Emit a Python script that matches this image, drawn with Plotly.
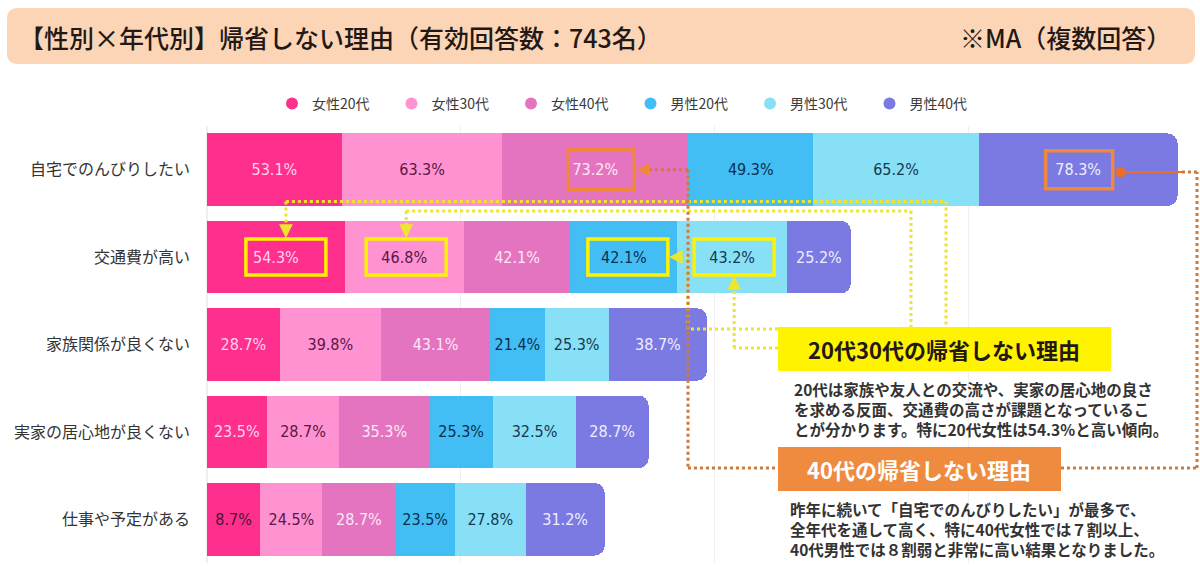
import plotly.graph_objects as go

# ---------------- data ----------------
categories = ["自宅でのんびりしたい", "交通費が高い", "家族関係が良くない", "実家の居心地が良くない", "仕事や予定がある"]
series_names = ["女性20代", "女性30代", "女性40代", "男性20代", "男性30代", "男性40代"]
female_20s = [53.1, 54.3, 28.7, 23.5, 8.7]
female_30s = [63.3, 46.8, 39.8, 28.7, 24.5]
female_40s = [73.2, 42.1, 43.1, 35.3, 28.7]
male_20s = [49.3, 42.1, 21.4, 25.3, 23.5]
male_30s = [65.2, 43.2, 25.3, 32.5, 27.8]
male_40s = [78.3, 25.2, 38.7, 28.7, 31.2]
series_values = [female_20s, female_30s, female_40s, male_20s, male_30s, male_40s]

# ---------------- style ----------------
colors = ["#FE2F8D", "#FF92D1", "#E574C0", "#43BEF5", "#88E0F6", "#7B7AE2"]
text_colors = ["#FFD3EE", "#5A1747", "#FDE8F6", "#0E2E4E", "#16394F", "#EEEEFF"]
text_color_override = {(0, 4): "#4A1238"}   # (series, row): dark label on the narrow segment
MIN_SEG = 21.0  # the original keeps a minimum segment length so its label fits

W, H = 1200, 566
PL, PR, PT, PB = 207, 1200, 126, 563
PW, PH = PR - PL, PB - PT
X_MAX = 391.25
SCALE = PW / X_MAX
BAND = PH / len(categories)

JP = "Noto Sans CJK JP, Noto Sans, sans-serif"
NUM = "DejaVu Sans Condensed, Liberation Sans Narrow, Liberation Sans, sans-serif"


def X(px):
    return (px - PL) / PW


def Y(py):
    return (PB - py) / PH


fig = go.Figure()

display_values = [[max(v, MIN_SEG) for v in vals] for vals in series_values]

for si, (name, vals, disp, col) in enumerate(zip(series_names, series_values, display_values, colors)):
    tcols = [text_color_override.get((si, ri), text_colors[si]) for ri in range(len(vals))]
    fig.add_trace(go.Bar(
        y=categories, x=disp, orientation="h", name=name,
        marker=dict(color=col, line=dict(width=0)),
        text=[f"{v:.1f}%" for v in vals], textposition="inside",
        insidetextanchor="middle", textangle=0,
        textfont=dict(family=NUM, size=16, color=tcols),
        showlegend=False, hoverinfo="skip",
    ))

for name, col in zip(series_names, colors):
    fig.add_trace(go.Scatter(
        x=[None], y=[None], mode="markers", name=name,
        marker=dict(symbol="circle", size=14, color=col),
    ))

shapes = []
annotations = []


def rounded_path(x0, y0, x1, y1, r):
    def P(x, y):
        return f"{X(x):.5f},{Y(y):.5f}"
    return (f"M {P(x0 + r, y0)} L {P(x1 - r, y0)} Q {P(x1, y0)} {P(x1, y0 + r)} "
            f"L {P(x1, y1 - r)} Q {P(x1, y1)} {P(x1 - r, y1)} L {P(x0 + r, y1)} "
            f"Q {P(x0, y1)} {P(x0, y1 - r)} L {P(x0, y0 + r)} Q {P(x0, y0)} {P(x0 + r, y0)} Z")


# header bar
shapes.append(dict(type="path", xref="paper", yref="paper", path=rounded_path(7, 8, 1195, 64, 11),
                   fillcolor="#FBD5B6", line=dict(width=0), layer="below"))
annotations.append(dict(xref="paper", yref="paper", x=X(17), y=Y(37), xanchor="left", yanchor="middle",
                        text="【性別×年代別】帰省しない理由（有効回答数：743名）", showarrow=False,
                        font=dict(family=JP, size=25, color="#231815", weight=500)))
annotations.append(dict(xref="paper", yref="paper", x=X(1173), y=Y(37), xanchor="right", yanchor="middle",
                        text="※MA（複数回答）", showarrow=False,
                        font=dict(family=JP, size=25, color="#231815", weight=500)))


# highlight boxes around labels (anchored to segment centres)
def seg_center(si, ri):
    return sum(display_values[k][ri] for k in range(si)) + display_values[si][ri] / 2


ORANGE = "#F0883E"
YELLOW = "#FFF200"
boxes = [  # (series, row, colour, w, h, dx)
    (2, 0, ORANGE, 66, 40, 6),
    (5, 0, ORANGE, 67, 38, 1),
    (0, 1, YELLOW, 80, 36, 10),
    (1, 1, YELLOW, 80, 36, 2),
    (3, 1, YELLOW, 80, 36, 4),
    (4, 1, YELLOW, 80, 36, 2),
]
box_px = {}
for si, ri, col, bw, bh, dx in boxes:
    c = seg_center(si, ri)
    shapes.append(dict(type="rect", xref="x", yref="y", xsizemode="pixel", ysizemode="pixel",
                       xanchor=c, yanchor=ri, x0=dx - bw / 2, x1=dx + bw / 2, y0=-bh / 2, y1=bh / 2,
                       line=dict(color=col, width=3.5), fillcolor="rgba(0,0,0,0)", layer="above"))
    cx = PL + c * SCALE + dx
    cy = PT + (ri + 0.5) * BAND
    box_px[(si, ri)] = (cx, cy, bw, bh)

DOT_Y = "#EEE62C"
DOT_O = "#CD7A3D"


def dline(x0, y0, x1, y1, col):
    shapes.append(dict(type="line", xref="paper", yref="paper", x0=X(x0), y0=Y(y0), x1=X(x1), y1=Y(y1),
                       line=dict(color=col, width=3, dash="dot"), layer="above"))


def arrow(xh, yh, ax, ay, col, head=2, size=1.1, width=2.5):
    annotations.append(dict(xref="paper", yref="paper", x=X(xh), y=Y(yh), ax=ax, ay=ay,
                            axref="pixel", ayref="pixel", text="", showarrow=True,
                            arrowhead=head, arrowsize=size, arrowwidth=width, arrowcolor=col))


# yellow connectors
c54 = box_px[(0, 1)]
c46 = box_px[(1, 1)]
c42 = box_px[(3, 1)]
c43 = box_px[(4, 1)]
top1 = c54[1] - c54[3] / 2
dline(c54[0], 201.5, 946, 201.5, DOT_Y)
dline(946, 201.5, 946, 327, DOT_Y)
dline(c54[0], 201.5, c54[0], top1 - 8, DOT_Y)
arrow(c54[0], top1 - 1, 0, -10, DOT_Y)
dline(c46[0], 211, 911, 211, DOT_Y)
dline(911, 211, 911, 327, DOT_Y)
dline(c46[0], 211, c46[0], top1 - 8, DOT_Y)
arrow(c46[0], top1 - 1, 0, -10, DOT_Y)
r42 = c42[0] + c42[2] / 2
dline(778, 329, 688, 329, DOT_Y)
dline(688, 329, 688, c42[1], DOT_Y)
dline(688, c42[1], r42 + 8, c42[1], DOT_Y)
arrow(r42 + 1, c42[1], 10, 0, DOT_Y)
b43 = c43[1] + c43[3] / 2
dline(778, 348, c43[0], 348, DOT_Y)
dline(c43[0], 348, c43[0], b43 + 8, DOT_Y)
arrow(c43[0], b43 + 1, 0, 10, DOT_Y)

# orange connectors
c73 = box_px[(2, 0)]
c78 = box_px[(5, 0)]
r73 = c73[0] + c73[2] / 2
dline(688, c73[1], r73 + 10, c73[1], DOT_O)
arrow(r73 + 2, c73[1], 10, 0, ORANGE)
dline(688, c73[1], 688, 468, DOT_O)
dline(688, 468, 778, 468, DOT_O)
dline(1061, 468, 1197, 468, DOT_O)
dline(1197, 468, 1197, 172, DOT_O)
dline(1197, 172, 1182, 172, DOT_O)
arrow(c78[0] + c78[2] / 2 + 8, 172, 1184 - (c78[0] + c78[2] / 2 + 8), 0, "#E8702A", head=6, size=1.3, width=2)

# commentary boxes
shapes.append(dict(type="rect", xref="paper", yref="paper", x0=X(778), x1=X(1111), y0=Y(371), y1=Y(327),
                   fillcolor="#FFF300", line=dict(width=0), layer="above"))
annotations.append(dict(xref="paper", yref="paper", x=X(944), y=Y(349), xanchor="center", yanchor="middle",
                        text="20代30代の帰省しない理由", showarrow=False,
                        font=dict(family=JP, size=22, color="#231815", weight="bold")))
annotations.append(dict(xref="paper", yref="paper", x=X(792), y=Y(376), xanchor="left", yanchor="top",
                        align="left", showarrow=False,
                        text="20代は家族や友人との交流や、実家の居心地の良さ<br>を求める反面、交通費の高さが課題となっているこ<br>とが分かります。特に20代女性は54.3%と高い傾向。",
                        font=dict(family=JP, size=15.5, color="#333333", weight="bold")))
shapes.append(dict(type="rect", xref="paper", yref="paper", x0=X(778), x1=X(1061), y0=Y(491), y1=Y(447),
                   fillcolor="#EF8B3F", line=dict(width=0), layer="above"))
annotations.append(dict(xref="paper", yref="paper", x=X(919), y=Y(469), xanchor="center", yanchor="middle",
                        text="40代の帰省しない理由", showarrow=False,
                        font=dict(family=JP, size=22, color="#FFFFFF", weight="bold")))
annotations.append(dict(xref="paper", yref="paper", x=X(788), y=Y(496), xanchor="left", yanchor="top",
                        align="left", showarrow=False,
                        text="昨年に続いて「自宅でのんびりしたい」が最多で、<br>全年代を通して高く、特に40代女性では７割以上、<br>40代男性では８割弱と非常に高い結果となりました。",
                        font=dict(family=JP, size=15.5, color="#333333", weight="bold")))

fig.update_layout(
    width=W, height=H,
    margin=dict(l=PL, r=W - PR, t=PT, b=H - PB, pad=0),
    paper_bgcolor="white", plot_bgcolor="white",
    barmode="stack", bargap=0.17, barcornerradius=10,
    uniformtext=dict(minsize=16, mode="show"),
    showlegend=True,
    legend=dict(orientation="h", x=X(272), xanchor="left", y=Y(104), yanchor="middle",
                traceorder="normal",
                font=dict(family=JP, size=14, color="#3A3A3A"),
                entrywidth=74.5, entrywidthmode="pixels", itemsizing="constant",
                bgcolor="rgba(0,0,0,0)"),
    xaxis=dict(range=[0, X_MAX], showticklabels=False, showgrid=True, gridcolor="#EFEFEF",
               dtick=100, zeroline=True, zerolinecolor="#EFEFEF", fixedrange=True),
    yaxis=dict(autorange="reversed", ticks="", ticklabelstandoff=16,
               tickfont=dict(family=JP, size=16, color="#333333"), showgrid=False, fixedrange=True),
    shapes=shapes, annotations=annotations,
)

fig.write_html("out.html")
